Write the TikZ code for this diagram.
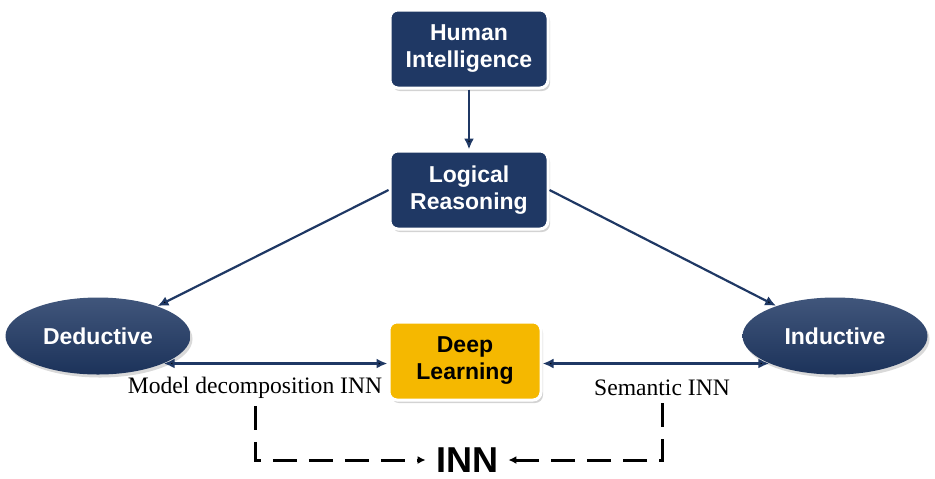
\documentclass[tikz,border=0pt]{standalone}
\usepackage{fontspec}
\setmainfont{Liberation Serif}
\setsansfont{Liberation Sans}
\usetikzlibrary{arrows.meta,positioning,shapes.geometric,shadows}
\definecolor{navy}{HTML}{1F3864}
\definecolor{gold}{HTML}{F5B800}

\begin{document}
\begin{tikzpicture}[x=0.5pt,y=-0.5pt,>={Latex[length=5.5pt,width=5pt]},
	navybox/.style={draw=white,line width=1.5pt,fill=navy,rounded corners=4pt,
		minimum width=79pt,minimum height=39pt,align=center,text=white,
		font=\sffamily\bfseries\fontsize{11.5}{13.5}\selectfont,
		drop shadow={shadow xshift=1pt,shadow yshift=-1.5pt,opacity=.35}},
	goldbox/.style={navybox,fill=gold,text=black,minimum width=76pt},
	oval/.style={ellipse,inner sep=0pt,minimum width=92.5pt,minimum height=38.5pt,
		top color=navy!85!white,bottom color=navy!90!black,text=white,
		font=\sffamily\bfseries\fontsize{11.5}{13.5}\selectfont,
		drop shadow={shadow xshift=1pt,shadow yshift=-1.5pt,opacity=.3}},
	lbl/.style={font=\fontsize{11.8}{14}\selectfont},
	inn/.style={inner xsep=5pt,inner ysep=0pt,
		font=\sffamily\bfseries\fontsize{18}{20}\selectfont},
	navyline/.style={draw=navy,line width=1.1pt},
	dashln/.style={draw=black,line width=1.5pt,dash pattern=on 12pt off 6pt}]
	\useasboundingbox (0,0) rectangle (935,478);

	\node[navybox] (hi) at (469,49) {Human\\Intelligence};
	\node[navybox,below=30pt of hi] (lr) {Logical\\Reasoning};
	\node[oval] (ded) at (98,336) {Deductive};
	\node[oval] (ind) at (835,336) {Inductive};
	\node[goldbox] (dl) at (465,361) {Deep\\Learning};
	\node[lbl] (mdl) at (255,388) {Model decomposition INN};
	\node[lbl] (sem) at (662,388) {Semantic INN};
	\node[inn] (inn) at (467,460) {INN};

	\path[navyline]
		(hi) edge[->] (lr)
		(lr.west) edge[->] (ded)
		(lr.east) edge[->] (ind)
		(ded.south east) edge[<->] (ded.south east -| dl.west)
		(ind.south west) edge[<->] (ind.south west -| dl.east)
		;

	\draw[dashln,-{Latex[length=4pt,width=4pt]}] (mdl.south) |- (inn.west);
	\draw[dashln,-{Latex[length=4pt,width=4pt]}] (sem.south) |- (inn.east);
\end{tikzpicture}
\end{document}
